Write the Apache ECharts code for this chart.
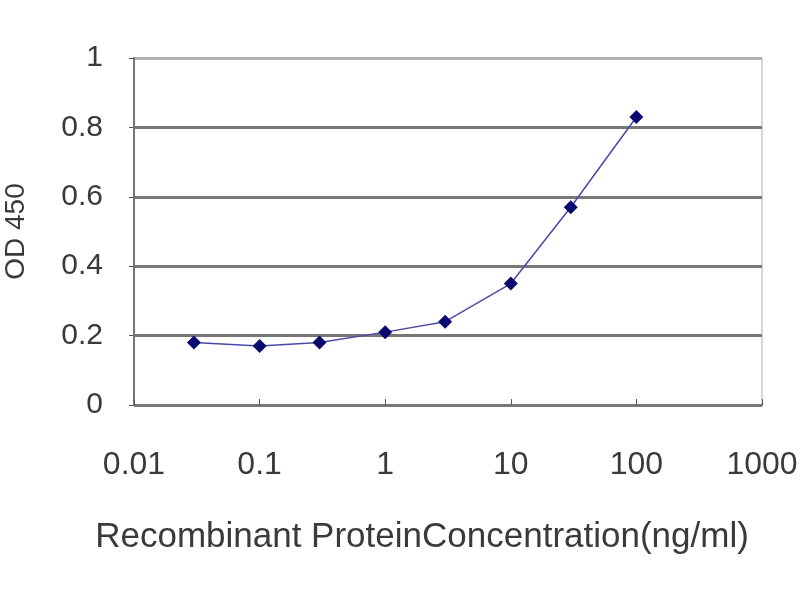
<!DOCTYPE html>
<html>
<head>
<meta charset="utf-8">
<script src="https://cdn.jsdelivr.net/npm/echarts@6/dist/echarts.min.js"></script>
<style>
  html, body { margin: 0; padding: 0; background: #fff; }
  #chart { width: 800px; height: 600px; }
</style>
</head>
<body>
<div id="chart"></div>
<script>
// concentration (ng/ml) and OD 450 readings
const concentrations = [0.03, 0.1, 0.3, 1, 3, 10, 30, 100]
const od450 = [0.18, 0.17, 0.18, 0.21, 0.24, 0.35, 0.57, 0.83]
const yTicks = [0, 0.2, 0.4, 0.6, 0.8, 1]

const points = concentrations.map((c, i) => [c, od450[i]])

const chart = echarts.init(document.getElementById('chart'), null, { renderer: 'canvas' })
const font = 'Liberation Sans, Arial, sans-serif'

chart.setOption({
  animation: false,
  grid: {
    left: 134, right: 38, top: 58, bottom: 195,
    outerBoundsMode: 'none',
    show: true, borderColor: '#b0b0b0', borderWidth: 1
  },
  xAxis: {
    type: 'log',
    logBase: 10,
    min: 0.01,
    max: 1000,
    name: 'Recombinant ProteinConcentration(ng/ml)',
    nameLocation: 'middle',
    nameGap: 115,
    nameTextStyle: { fontFamily: font, fontSize: 35, color: '#3a3a3a', padding: [0, 52, 0, 0] },
    axisLine: { lineStyle: { color: '#777', width: 2 } },
    axisTick: { inside: true, length: 6, lineStyle: { color: '#555' } },
    axisLabel: {
      fontFamily: font, fontSize: 32, color: '#3a3a3a', margin: 44,
      formatter: v => String(+v.toPrecision(6))
    },
    splitLine: { show: false }
  },
  yAxis: {
    type: 'value',
    min: yTicks[0],
    max: yTicks[yTicks.length - 1],
    interval: 0.2,
    name: 'OD 450',
    nameLocation: 'middle',
    nameGap: 104,
    nameTextStyle: { fontFamily: font, fontSize: 28, color: '#3a3a3a' },
    axisLine: { show: true, lineStyle: { color: '#777', width: 2 } },
    axisTick: { show: true, length: 5, lineStyle: { color: '#555' } },
    axisLabel: { fontFamily: font, fontSize: 30, color: '#3a3a3a', margin: 31 },
    splitLine: { lineStyle: { color: ['#777', '#777', '#777', '#777', '#777', '#b0b0b0'], width: 3 } }
  },
  series: [{
    type: 'line',
    data: points,
    symbol: 'diamond',
    symbolSize: 14,
    itemStyle: { color: '#0a0a6e' },
    lineStyle: { color: '#4a4aa8', width: 1.5 }
  }]
})
</script>
</body>
</html>
